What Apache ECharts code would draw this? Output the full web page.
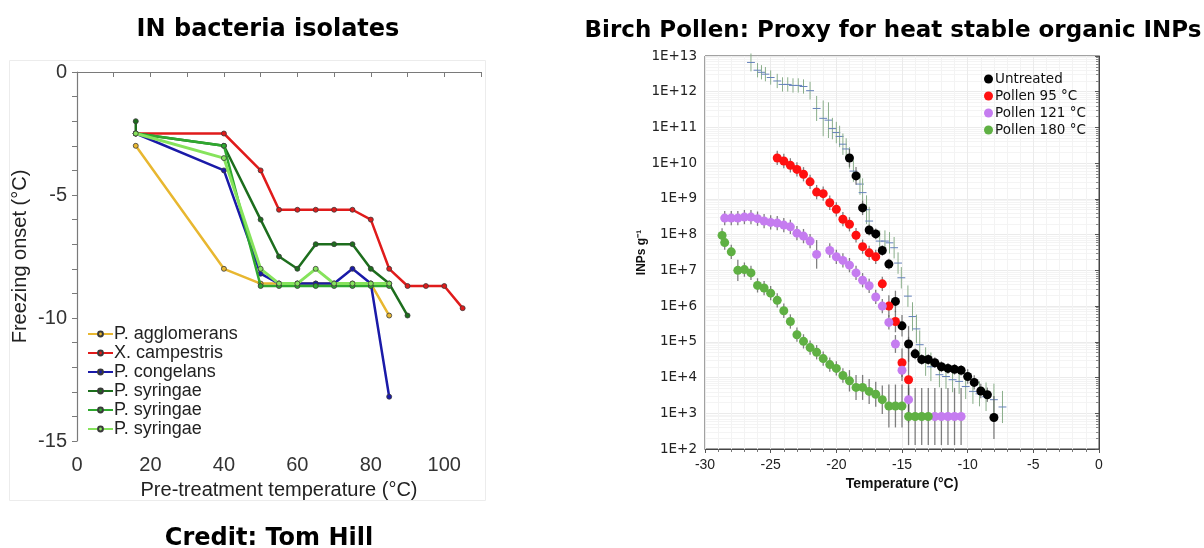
<!DOCTYPE html>
<html><head><meta charset="utf-8">
<script src="https://cdn.jsdelivr.net/npm/echarts@6/dist/echarts.min.js"></script>
<style>html,body{margin:0;padding:0;background:#fff}#c{width:1204px;height:548px}</style>
</head><body><div id="c"></div><script>
// ---------- Left panel: IN bacteria isolates ----------
const agglomeransT = [16,40,50,55,60,65,70,75,80,85];
const agglomeransOnset = [-3,-8,-8.6,-8.6,-8.6,-8.6,-8.6,-8.6,-8.6,-9.9];
const campestrisT = [16,40,50,55,60,65,70,75,80,85,90,95,100,105];
const campestrisOnset = [-2.5,-2.5,-4,-5.6,-5.6,-5.6,-5.6,-5.6,-6,-8,-8.7,-8.7,-8.7,-9.6];
const congelansT = [16,40,50,55,60,65,70,75,80,85];
const congelansOnset = [-2.5,-4,-8.2,-8.6,-8.6,-8.6,-8.6,-8,-8.6,-13.2];
const syringae1T = [16,16,40,50,55,60,65,70,75,80,85,90];
const syringae1Onset = [-2,-2.5,-3,-6,-7.5,-8,-7,-7,-7,-8,-8.6,-9.9];
const syringae2T = [16,40,50,55,60,65,70,75,80,85];
const syringae2Onset = [-2.5,-3,-8.7,-8.7,-8.7,-8.7,-8.7,-8.7,-8.7,-8.7];
const syringae3T = [16,40,50,55,60,65,70,75,80,85];
const syringae3Onset = [-2.5,-3.5,-8,-8.6,-8.6,-8,-8.6,-8.6,-8.6,-8.6];
const bacteriaNames = ['P. agglomerans','X. campestris','P. congelans','P. syringae','P. syringae\u200B','P. syringae\u200B\u200B'];

// ---------- Right panel: Birch pollen ----------
const untreatedT = [-19,-18.5,-18,-17.5,-17,-16.5,-16,-15.5,-15,-14.5,-14,-13.5,-13,-12.5,-12,-11.5,-11,-10.5,-10,-9.5,-9,-8.5,-8];
const untreatedINP = [1.4e10,4.4e9,5.6e8,1.35e8,1.05e8,3.6e7,1.5e7,1.35e6,2.8e5,8.7e4,4.6e4,3.2e4,3.2e4,2.6e4,2.0e4,1.8e4,1.7e4,1.6e4,1.07e4,7.3e3,4.2e3,3.3e3,7.6e2];
const untreatedErr = [0.25,0.25,0.2,0.15,0.15,0.15,0.15,0.3,0.3,0.5,0.15,0.15,0.15,0.15,0.15,0.15,0.15,0.15,0.2,0.2,0.2,0.2,0.6];

const pollen95T = [-24.5,-24,-23.5,-23,-22.5,-22,-21.5,-21,-20.5,-20,-19.5,-19,-18.5,-18,-17.5,-17,-16.5,-16,-15.5,-15,-14.5];
const pollen95INP = [1.4e10,1.15e10,8.7e9,6.7e9,4.9e9,3.0e9,1.55e9,1.4e9,7.8e8,5.1e8,2.7e8,1.95e8,9.6e7,4.6e7,3.1e7,2.4e7,4.2e6,1.0e6,3.7e5,2.6e4,8.7e3];
const pollen95Err = [0.2,0.2,0.2,0.2,0.2,0.2,0.2,0.2,0.2,0.2,0.2,0.2,0.2,0.2,0.2,0.2,0.2,0.3,0.3,0.4,1.2];

const pollen121T = [-28.5,-28,-27.5,-27,-26.5,-26,-25.5,-25,-24.5,-24,-23.5,-23,-22.5,-22,-21.5,-20.5,-20,-19.5,-19,-18.5,-18,-17.5,-17,-16.5,-16,-15.5,-15,-14.5,-12.5,-12,-11.5,-11,-10.5];
const pollen121INP = [2.9e8,2.9e8,2.9e8,3.1e8,3.1e8,2.8e8,2.4e8,2.2e8,2.1e8,1.85e8,1.65e8,1.1e8,9.1e7,6.6e7,2.8e7,3.6e7,2.4e7,1.9e7,1.4e7,8.5e6,5.3e6,3.7e6,1.8e6,1.0e6,3.5e5,8.7e4,1.6e4,2.4e3,8.1e2,8.1e2,8.1e2,8.1e2,8.1e2];
const pollen121Err = [0.2,0.2,0.2,0.2,0.2,0.2,0.2,0.2,0.2,0.2,0.2,0.2,0.2,0.2,0.4,0.2,0.2,0.2,0.2,0.2,0.2,0.2,0.2,0.2,0.2,0.25,0.3,0.4,0.8,0.8,0.8,0.8,0.8];

const pollen180T = [-28.7,-28.5,-28,-27.5,-27,-26.5,-26,-25.5,-25,-24.5,-24,-23.5,-23,-22.5,-22,-21.5,-21,-20.5,-20,-19.5,-19,-18.5,-18,-17.5,-17,-16.5,-16,-15.5,-15,-14.5,-14,-13.5,-13];
const pollen180INP = [9.5e7,6.0e7,3.3e7,1.0e7,1.05e7,8.5e6,3.8e6,3.2e6,2.3e6,1.45e6,7.4e5,3.7e5,1.58e5,1.03e5,6.9e4,5.1e4,3.4e4,2.3e4,1.8e4,1.14e4,8.1e3,5.3e3,5.3e3,4.1e3,3.4e3,2.4e3,1.6e3,1.6e3,1.6e3,8.1e2,8.1e2,8.1e2,8.1e2];
const pollen180Err = [0.2,0.2,0.2,0.3,0.2,0.2,0.2,0.2,0.2,0.2,0.2,0.2,0.2,0.2,0.2,0.2,0.2,0.2,0.2,0.2,0.3,0.35,0.35,0.35,0.35,0.4,0.6,0.6,0.6,0.8,0.8,0.8,0.8];

// reference (crosses, no legend)
const crossT = [-26.5,-26,-25.7,-25.4,-25,-24.5,-24.1,-23.7,-23.3,-22.9,-22.5,-22,-21.5,-21,-20.6,-20.3,-20,-19.75,-19.5,-19.25,-19,-18.7,-18.2,-18,-17.7,-17.5,-16.7,-16.3,-15.95,-15.6,-15.3,-15.05,-14.55,-14.2,-13.9,-13.65,-13.2,-12.8,-12.15,-11.65,-11.15,-10.65,-10.15,-9.6,-9.1,-8.6,-8,-7.35];
const crossINP = [6.6e12,4e12,3.5e12,3.1e12,2.5e12,2e12,1.6e12,1.6e12,1.5e12,1.5e12,1.4e12,1.07e12,3.4e11,1.8e11,1.6e11,9.3e10,7.2e10,5.6e10,3.4e10,2.5e10,1.4e10,6e9,2.6e9,1.5e9,5e8,2.4e8,6.6e7,6.6e7,5.9e7,4.3e7,1.6e7,6.2e6,1.9e6,5.1e5,2.3e5,8.3e4,2.8e4,2e4,1.2e4,1.07e4,8.7e3,7.8e3,5.6e3,4.1e3,3.5e3,2.9e3,2.4e3,1.5e3];
const crossErr = [0.25,0.2,0.2,0.2,0.2,0.2,0.2,0.2,0.2,0.2,0.2,0.25,0.35,0.5,0.5,0.3,0.3,0.3,0.3,0.3,0.3,0.3,0.3,0.4,0.4,0.4,0.3,0.3,0.3,0.3,0.3,0.3,0.3,0.4,0.4,0.4,0.4,0.4,0.35,0.35,0.35,0.35,0.35,0.35,0.35,0.4,0.45,0.45];
const crossTempErr = 0.3;
const pollenNames = ['Untreated','Pollen 95 °C','Pollen 121 °C','Pollen 180 °C'];

const FONT = '"Liberation Sans", Arial, sans-serif';
const WIDE = '"DejaVu Sans", "Liberation Sans", sans-serif';
const chart = echarts.init(document.getElementById('c'), null, {renderer: 'canvas'});

const bacteriaColors = ['#e8b730','#e01b1b','#1a1aa8','#1d6e1d','#2fa82f','#86e35c'];
const bacteriaSets = [
  [agglomeransT, agglomeransOnset],[campestrisT, campestrisOnset],[congelansT, congelansOnset],
  [syringae1T, syringae1Onset],[syringae2T, syringae2Onset],[syringae3T, syringae3Onset]
];
const series = [];
bacteriaSets.forEach((s, k) => {
  series.push({
    name: bacteriaNames[k], type: 'line', xAxisIndex: 0, yAxisIndex: 0,
    data: s[0].map((t, i) => [t, s[1][i]]),
    symbol: 'circle', symbolSize: 5, showSymbol: true,
    lineStyle: {color: bacteriaColors[k], width: k === 5 ? 3 : 2.5},
    itemStyle: {color: bacteriaColors[k], borderColor: '#3a3a3a', borderWidth: 0.8},
    z: 2 + k, animation: false
  });
});

function errRender(params, api) {
  const x = api.value(0);
  const p1 = api.coord([x, api.value(1)]), p2 = api.coord([x, api.value(2)]);
  return {type: 'line', shape: {x1: p1[0], y1: p1[1], x2: p2[0], y2: p2[1]},
          style: {stroke: '#555', lineWidth: 1.3, opacity: 0.75}};
}
function crossRender(params, api) {
  const x = api.value(0), v = api.value(1), lo = api.value(2), hi = api.value(3);
  const a = api.coord([x - crossTempErr, v]), b = api.coord([x + crossTempErr, v]);
  const c = api.coord([x, lo]), d = api.coord([x, hi]);
  return {type: 'group', children: [
    {type: 'line', shape: {x1: c[0], y1: c[1], x2: d[0], y2: d[1]}, style: {stroke: '#8aae8a', lineWidth: 1}},
    {type: 'line', shape: {x1: a[0], y1: a[1], x2: b[0], y2: b[1]}, style: {stroke: '#6582bb', lineWidth: 1}}
  ]};
}
series.push({
  type: 'custom', xAxisIndex: 1, yAxisIndex: 1, renderItem: crossRender, z: 1, silent: true,
  data: crossT.map((t, i) => [t, crossINP[i], crossINP[i] / Math.pow(10, crossErr[i]), crossINP[i] * Math.pow(10, crossErr[i])]),
  encode: {x: 0, y: [1, 2, 3]}, animation: false
});
const pollenColors = ['#000000','#ff1010','#c57cf0','#5fb043'];
const pollenSets = [[untreatedT, untreatedINP, untreatedErr],[pollen95T, pollen95INP, pollen95Err],[pollen121T, pollen121INP, pollen121Err],[pollen180T, pollen180INP, pollen180Err]];
pollenSets.forEach((s, k) => {
  series.push({
    type: 'custom', xAxisIndex: 1, yAxisIndex: 1, renderItem: errRender, z: 2, silent: true,
    data: s[0].map((t, i) => [t, s[1][i] / Math.pow(10, s[2][i]), s[1][i] * Math.pow(10, s[2][i])]),
    encode: {x: 0, y: [1, 2]}, animation: false
  });
});
pollenSets.forEach((s, k) => {
  series.push({
    name: pollenNames[k], type: 'scatter', xAxisIndex: 1, yAxisIndex: 1,
    data: s[0].map((t, i) => [t, s[1][i]]),
    symbol: 'circle', symbolSize: 9, itemStyle: {color: pollenColors[k], opacity: 1},
    z: 3, animation: false
  });
});

const option = {
  backgroundColor: '#fff',
  animation: false,
  textStyle: {fontFamily: FONT},
  title: [
    {text: 'IN bacteria isolates', left: 263, top: 13, textAlign: 'center',
     textStyle: {fontFamily: WIDE, fontSize: 24, fontWeight: 'bold', color: '#000'}},
    {text: 'Credit: Tom Hill', left: 264, top: 522, textAlign: 'center',
     textStyle: {fontFamily: WIDE, fontSize: 24, fontWeight: 'bold', color: '#000'}},
    {text: 'Birch Pollen: Proxy for heat stable organic INPs', left: 888, top: 15, textAlign: 'center',
     textStyle: {fontFamily: WIDE, fontSize: 23, fontWeight: 'bold', color: '#000'}}
  ],
  graphic: [
    {type: 'rect', left: 7, top: 58, shape: {width: 476, height: 440}, style: {fill: 'none', stroke: '#ececec', lineWidth: 1}, silent: true}
  ],
  legend: [
    {data: bacteriaNames, orient: 'vertical', left: 82, top: 320, itemGap: 1, itemWidth: 25, itemHeight: 6,
     selectedMode: false, textStyle: {fontFamily: FONT, fontSize: 18, color: '#222', padding: [0,0,0,-4]}},
    {data: pollenNames, orient: 'vertical', left: 979, top: 67, itemGap: 3, itemWidth: 9, itemHeight: 9, icon: 'circle',
     selectedMode: false, textStyle: {fontFamily: WIDE, fontSize: 13.5, color: '#111', padding: [0,0,0,-3]}}
  ],
  grid: [
    {left: 77, top: 72, width: 404, height: 369, containLabel: false},
    {left: 705, top: 56, width: 394, height: 393, show: true, borderColor: '#444', borderWidth: 1, containLabel: false}
  ],
  xAxis: [
    {gridIndex: 0, type: 'value', min: 0, max: 110, interval: 10,
     axisLine: {show: true, lineStyle: {color: '#7a7a7a', width: 1.2}},
     axisTick: {show: true, length: 5, lineStyle: {color: '#7a7a7a'}},
     axisLabel: {fontFamily: FONT, fontSize: 20, color: '#333', margin: 14, formatter: v => (v % 20 === 0 && v <= 100) ? String(v) : ''},
     splitLine: {show: false},
     name: 'Pre-treatment temperature (°C)', nameLocation: 'middle', nameGap: 39,
     nameTextStyle: {fontFamily: FONT, fontSize: 20, color: '#222'}},
    {gridIndex: 1, type: 'value', min: -30, max: 0, interval: 5,
     axisLine: {show: true, lineStyle: {color: '#444', width: 1}},
     axisTick: {show: true, length: 4, lineStyle: {color: '#555'}},
     minorTick: {show: true, splitNumber: 5, length: 3, lineStyle: {color: '#777'}},
     axisLabel: {fontFamily: FONT, fontSize: 14, color: '#222', margin: 9},
     splitLine: {show: true, lineStyle: {color: '#ebebeb', width: 1}},
     minorSplitLine: {show: true, lineStyle: {color: '#f3f3f3', width: 1}},
     name: 'Temperature (°C)', nameLocation: 'middle', nameGap: 26,
     nameTextStyle: {fontFamily: FONT, fontSize: 14, fontWeight: 'bold', color: '#111'}}
  ],
  yAxis: [
    {gridIndex: 0, type: 'value', min: -15, max: 0, interval: 5,
     axisLine: {show: true, lineStyle: {color: '#7a7a7a', width: 1.2}},
     axisTick: {show: true, length: 5, lineStyle: {color: '#7a7a7a'}},
     minorTick: {show: true, splitNumber: 5, length: 5, lineStyle: {color: '#7a7a7a'}},
     axisLabel: {fontFamily: FONT, fontSize: 20, color: '#333', margin: 10},
     splitLine: {show: false},
     name: 'Freezing onset (°C)', nameLocation: 'middle', nameGap: 47, nameRotate: 90,
     nameTextStyle: {fontFamily: FONT, fontSize: 20, color: '#222'}},
    {gridIndex: 1, type: 'log', logBase: 10, min: 1e2, max: 1e13, interval: 1,
     axisLine: {show: true, lineStyle: {color: '#444', width: 1}},
     axisTick: {show: true, length: 4, lineStyle: {color: '#555'}},
     minorTick: {show: true, splitNumber: 9, length: 3, lineStyle: {color: '#888'}},
     axisLabel: {fontFamily: WIDE, fontSize: 13.5, color: '#222', margin: 8,
                 formatter: v => '1E+' + Math.round(Math.log10(v))},
     splitLine: {show: true, lineStyle: {color: '#ebebeb', width: 1}},
     minorSplitLine: {show: true, lineStyle: {color: '#f4f4f4', width: 1}},
     name: 'INPs g\u207B\u00B9', nameLocation: 'middle', nameGap: 57, nameRotate: 90,
     nameTextStyle: {fontFamily: FONT, fontSize: 12, fontWeight: 'bold', color: '#111'}}
  ],
  series: series
};
chart.setOption(option);
</script></body></html>
